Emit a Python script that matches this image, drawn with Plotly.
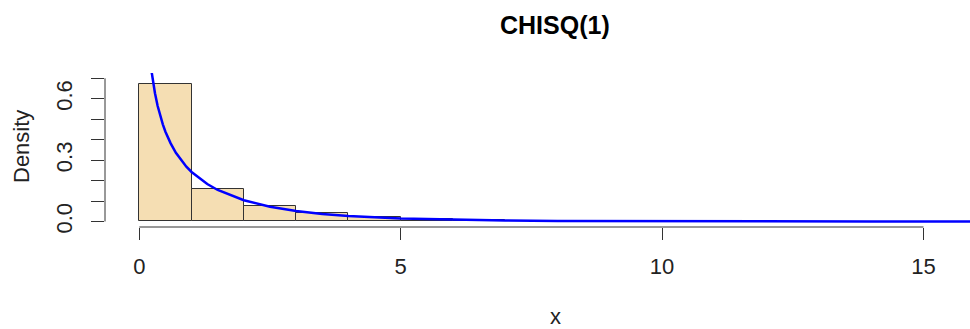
import plotly.graph_objects as go

# Histogram (breaks at integers), densities
bin_left = [0, 1, 2, 3, 4, 5, 6]
bin_density = [0.673, 0.160, 0.077, 0.042, 0.020, 0.011, 0.005]

# Density curve points (chi-square, 1 df)
curve_x = [0.23, 0.25, 0.27, 0.30, 0.35, 0.40, 0.45, 0.50, 0.60, 0.70, 0.80, 0.90,
           1.0, 1.2, 1.3, 1.5, 2.0, 2.5, 3.0, 3.5, 4.0, 5.0, 6.0, 7.0, 8.0, 10.0,
           12.0, 14.0, 16.0]
curve_y = [0.741, 0.704, 0.671, 0.627, 0.566, 0.516, 0.475, 0.439, 0.382, 0.336,
           0.299, 0.268, 0.242, 0.200, 0.183, 0.154, 0.104, 0.0723, 0.0514, 0.0371,
           0.0270, 0.0147, 0.0081, 0.0046, 0.0026, 0.00085, 0.00029, 0.0001, 0.00003]

x_ticks = [0, 5, 10, 15]
y_ticks = [0.0, 0.1, 0.2, 0.3, 0.4, 0.5, 0.6, 0.7]
y_ticktext = ["0.0", "", "", "0.3", "", "", "0.6", ""]

title_text = "CHISQ(1)"
x_label = "x"
y_label = "Density"

W, H = 970, 329
L, R, T, B = 105, 0, 73, 102
axis_col = "#333333"
font_fam = "Liberation Sans, Arial, sans-serif"

fig = go.Figure()
fig.add_trace(go.Bar(
    x=[b + 0.5 for b in bin_left], y=bin_density, width=1,
    marker=dict(color="#F5DEB3", line=dict(color="#333333", width=1)),
    hoverinfo="skip", showlegend=False))
fig.add_trace(go.Scatter(
    x=curve_x, y=curve_y, mode="lines",
    line=dict(color="#0000FF", width=2.5), showlegend=False))

# R-style axis lines spanning only the tick range
fig.add_shape(type="line", xref="x", yref="paper", x0=x_ticks[0], x1=x_ticks[-1],
              y0=0, y1=0, line=dict(color=axis_col, width=1))
fig.add_shape(type="line", xref="paper", yref="y", x0=0, x1=0,
              y0=y_ticks[0], y1=y_ticks[-1], line=dict(color=axis_col, width=1))

def px_to_paper_x(px):
    return (px - L) / (W - L - R)

def px_to_paper_y(py):
    return (H - B - py) / (H - T - B)

fig.add_annotation(text="<b>" + title_text + "</b>", xref="paper", yref="paper",
                   x=px_to_paper_x(555), y=px_to_paper_y(25), showarrow=False,
                   font=dict(family=font_fam, size=25, color="black"),
                   xanchor="center", yanchor="middle")
fig.add_annotation(text=x_label, xref="paper", yref="paper",
                   x=px_to_paper_x(555), y=px_to_paper_y(316), showarrow=False,
                   font=dict(family=font_fam, size=22, color="#222"),
                   xanchor="center", yanchor="middle")
fig.add_annotation(text=y_label, xref="paper", yref="paper",
                   x=px_to_paper_x(21), y=px_to_paper_y(147), showarrow=False,
                   textangle=-90,
                   font=dict(family=font_fam, size=22, color="#222"),
                   xanchor="center", yanchor="middle")

fig.update_layout(
    width=W, height=H, autosize=False,
    margin=dict(l=L, r=R, t=T, b=B, pad=0),
    paper_bgcolor="white", plot_bgcolor="white",
    bargap=0,
    xaxis=dict(range=[-0.656, 15.89], tickvals=x_ticks, ticktext=[str(v) for v in x_ticks],
               ticks="outside", ticklen=12, tickwidth=1, tickcolor=axis_col,
               showgrid=False, zeroline=False, showline=False,
               tickfont=dict(family=font_fam, size=22, color="#222"),
               ticklabelstandoff=8),
    yaxis=dict(range=[-0.027, 0.726], tickvals=y_ticks, ticktext=y_ticktext,
               ticks="outside", ticklen=13, tickwidth=1, tickcolor=axis_col,
               showgrid=False, zeroline=False, showline=False, tickangle=-90,
               tickfont=dict(family=font_fam, size=22, color="#222"),
               ticklabelstandoff=10),
)

fig.write_html("out.html")
